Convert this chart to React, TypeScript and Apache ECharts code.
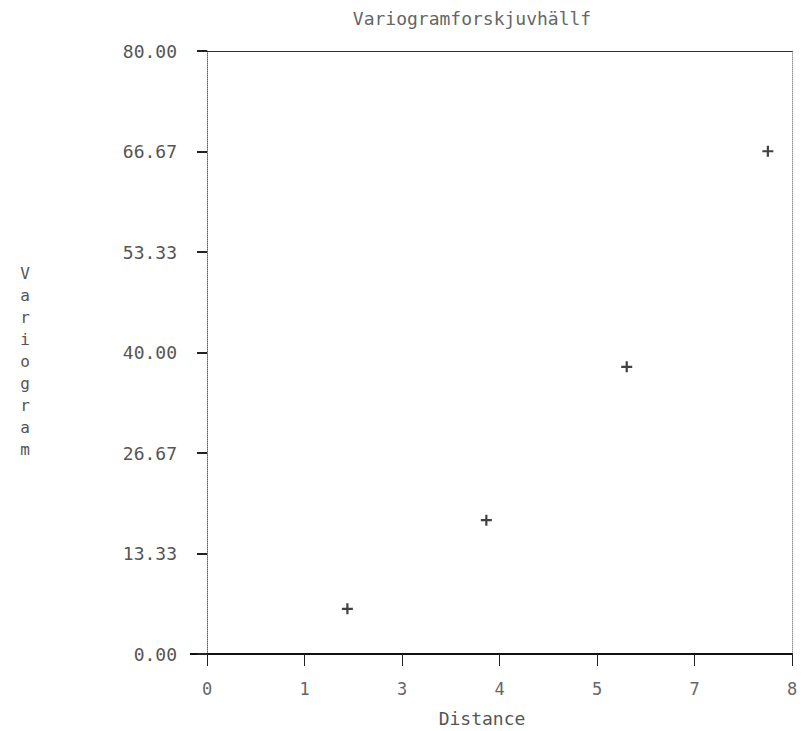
import React, { useEffect, useRef } from "react";
import * as echarts from "echarts";

const titleText = "Variogramforskjuvhällf";
const xName = "Distance";
const yName = "Variogram";
const distance = [1.92, 3.82, 5.74, 7.67];
const variogram = [6.0, 17.75, 38.1, 66.7];
const yMin = 0;
const yMax = 80;
const xMin = 0;
const xMax = 8;

export default function App() {
  const ref = useRef<HTMLDivElement>(null);
  useEffect(() => {
    document.body.style.margin = "0";
    if (!ref.current) return;
    const chart = echarts.init(ref.current, null, { renderer: "svg" });
    const font = "'DejaVu Sans Mono', monospace";
    const textColor = "#555";
    chart.setOption({
      animation: false,
      backgroundColor: "#fff",
      grid: { left: 207, right: 12, top: 51, bottom: 77 },
      graphic: [
        {
          type: "text",
          x: 472,
          y: 18,
          style: {
            text: titleText,
            fontSize: 18,
            fontFamily: font,
            fill: "#666",
            align: "center",
            verticalAlign: "middle",
          },
        },
        {
          type: "text",
          x: 482,
          y: 718,
          style: {
            text: xName,
            fontSize: 18,
            fontFamily: font,
            fill: textColor,
            align: "center",
            verticalAlign: "middle",
          },
        },
        {
          type: "text",
          x: 25,
          y: 262,
          style: {
            text: yName.split("").join("\n"),
            fontSize: 16,
            lineHeight: 22,
            fontFamily: font,
            fill: textColor,
            align: "center",
          },
        },
        {
          type: "line",
          shape: { x1: 190, y1: 654, x2: 207, y2: 654 },
          style: { stroke: "#111", lineWidth: 2 },
        },
      ],
      xAxis: [
        {
          type: "value",
          min: xMin,
          max: xMax,
          interval: (xMax - xMin) / 6,
          position: "bottom",
          axisLine: { show: true, onZero: false, lineStyle: { color: "#111", width: 2 } },
          axisTick: { show: true, length: 12, lineStyle: { color: "#222", width: 1 } },
          axisLabel: {
            margin: 26,
            fontSize: 17,
            color: "#666",
            fontFamily: font,
            formatter: (v: number) => String(Math.round(v)),
          },
          splitLine: { show: false },
        },
        {
          type: "value",
          min: xMin,
          max: xMax,
          position: "top",
          axisLine: { show: true, onZero: false, lineStyle: { color: "#333", width: 1 } },
          axisTick: { show: false },
          axisLabel: { show: false },
          splitLine: { show: false },
        },
      ],
      yAxis: [
        {
          type: "value",
          min: yMin,
          max: yMax,
          interval: (yMax - yMin) / 6,
          position: "left",
          axisLine: { show: true, onZero: false, lineStyle: { color: "#666", width: 1, type: "dotted" } },
          axisTick: { show: true, length: 10, lineStyle: { color: "#222", width: 2 } },
          axisLabel: {
            margin: 30,
            fontSize: 18,
            color: textColor,
            fontFamily: font,
            formatter: (v: number) => v.toFixed(2),
          },
          splitLine: { show: false },
        },
        {
          type: "value",
          min: yMin,
          max: yMax,
          position: "right",
          axisLine: { show: true, onZero: false, lineStyle: { color: "#999", width: 1, type: "dotted" } },
          axisTick: { show: false },
          axisLabel: { show: false },
          splitLine: { show: false },
        },
      ],
      series: [
        {
          type: "scatter",
          data: distance.map((d, i) => [d, variogram[i]]),
          symbol: "path://M4,0H6V4H10V6H6V10H4V6H0V4H4Z",
          symbolSize: 11,
          itemStyle: { color: "#111" },
        },
      ],
    });
    return () => chart.dispose();
  }, []);
  return <div ref={ref} style={{ width: 804, height: 731 }} />;
}
